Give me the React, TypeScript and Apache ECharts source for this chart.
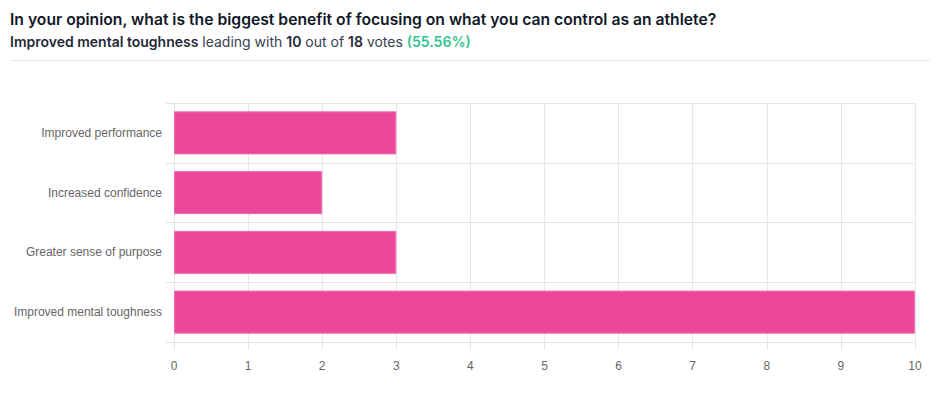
import React, { useEffect, useRef } from "react";
import * as echarts from "echarts";

const categories = [
  "Improved performance",
  "Increased confidence",
  "Greater sense of purpose",
  "Improved mental toughness",
];
const votes = [3, 2, 3, 10];
const xTicks = { min: 0, max: 10, interval: 1 };
const titleText = "In your opinion, what is the biggest benefit of focusing on what you can control as an athlete?";
const leader = "Improved mental toughness";
const leaderVotes = 10;
const totalVotes = 18;
const percentText = "(55.56%)";

export default function App() {
  const ref = useRef<HTMLDivElement>(null);
  useEffect(() => {
    if (!ref.current) return;
    const chart = echarts.init(ref.current, undefined, { renderer: "svg" });
    const font = "Inter, 'Noto Sans', sans-serif";
    const axisFont = "'Liberation Sans', Arial, Helvetica, sans-serif";
    const gridColor = "#e5e5e5";
    chart.setOption({
      animation: false,
      textStyle: { fontFamily: font },
      graphic: [
        {
          type: "text",
          left: 10,
          top: 11,
          style: {
            text: titleText,
            fontFamily: font,
            fontSize: 15.7,
            fontWeight: 600,
            fill: "#111827",
          },
        },
        {
          type: "text",
          left: 10,
          top: 34,
          style: {
            text:
              "{b|" + leader + "}{n| leading with }{b|" + leaderVotes + "}{n| out of }{b|" +
              totalVotes + "}{n| votes }{g|" + percentText + "}",
            fontFamily: font,
            fontSize: 14,
            rich: {
              b: { fontFamily: font, fontSize: 14, fontWeight: 600, fill: "#1f2937" },
              n: { fontFamily: font, fontSize: 14, fontWeight: 400, fill: "#374151" },
              g: { fontFamily: font, fontSize: 14, fontWeight: 600, fill: "#34c38f" },
            },
          },
        },
        {
          type: "line",
          shape: { x1: 10, y1: 60.5, x2: 930, y2: 60.5 },
          style: { stroke: "#e5e7eb", lineWidth: 1 },
        },
      ],
      grid: { left: 174, right: 33, top: 103, bottom: 55, containLabel: false },
      xAxis: {
        type: "value",
        min: xTicks.min,
        max: xTicks.max,
        interval: xTicks.interval,
        axisLine: { show: true, lineStyle: { color: gridColor } },
        axisTick: { show: true, length: 8, lineStyle: { color: gridColor } },
        splitLine: { show: true, lineStyle: { color: gridColor } },
        axisLabel: { color: "#666", fontSize: 12, margin: 18, fontFamily: axisFont },
      },
      yAxis: {
        type: "category",
        data: categories,
        inverse: true,
        axisLine: { show: true, lineStyle: { color: gridColor } },
        axisTick: { show: true, length: 8, lineStyle: { color: gridColor } },
        splitLine: { show: true, lineStyle: { color: gridColor } },
        axisLabel: { color: "#666", fontSize: 12, margin: 12, fontFamily: axisFont },
      },
      series: [
        {
          type: "bar",
          data: votes,
          barCategoryGap: "28%",
          itemStyle: { color: "#ec4899", borderColor: "#f36bb0", borderWidth: 1 },
        },
      ],
    });
    return () => chart.dispose();
  }, []);
  return (
    <div
      ref={ref}
      style={{ position: "fixed", left: 0, top: 0, width: 948, height: 397, background: "#fff" }}
    />
  );
}
